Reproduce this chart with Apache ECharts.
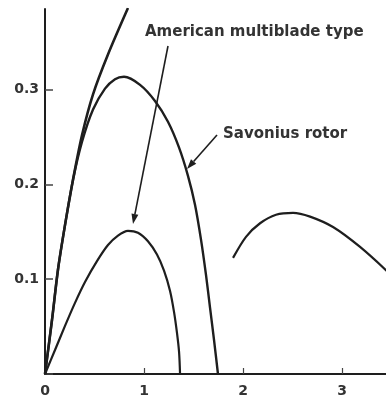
<!DOCTYPE html>
<html>
<head>
<meta charset="utf-8">
<script src="https://cdn.jsdelivr.net/npm/echarts@6/dist/echarts.min.js"></script>
<style>
html,body{margin:0;padding:0;background:#fff;}
#c{width:386px;height:399px;}
</style>
</head>
<body>
<div id="c"></div>
<script>
// Tip speed ratio (x) vs power coefficient (y)
var xTicks = [0, 1, 2, 3];
var yTicks = [0.1, 0.2, 0.3];

var steepX = [0, 0.0707, 0.131, 0.202, 0.283, 0.374, 0.485, 0.636, 0.838];
var steepY = [0, 0.057, 0.110, 0.157, 0.205, 0.252, 0.295, 0.337, 0.386];

var savoniusX = [0, 0.0707, 0.131, 0.202, 0.283, 0.374, 0.485, 0.606, 0.707, 0.798, 0.960, 1.111, 1.242, 1.354, 1.444, 1.515, 1.576, 1.626, 1.667, 1.707, 1.747];
var savoniusY = [0, 0.057, 0.110, 0.157, 0.205, 0.245, 0.279, 0.301, 0.311, 0.3135, 0.305, 0.288, 0.266, 0.2387, 0.209, 0.1785, 0.1415, 0.1045, 0.0697, 0.0359, 0];

var multibladeX = [0, 0.101, 0.202, 0.303, 0.404, 0.525, 0.636, 0.737, 0.838, 0.939, 1.040, 1.131, 1.202, 1.263, 1.303, 1.333, 1.354, 1.364];
var multibladeY = [0, 0.0253, 0.0507, 0.075, 0.097, 0.119, 0.136, 0.146, 0.151, 0.149, 0.140, 0.126, 0.109, 0.0876, 0.0655, 0.0433, 0.0232, 0];

var highSpeedX = [1.899, 2.03, 2.172, 2.333, 2.505, 2.677, 2.909, 3.182, 3.46];
var highSpeedY = [0.1225, 0.1447, 0.159, 0.168, 0.170, 0.166, 0.155, 0.134, 0.108];

function pairs(xs, ys){ return xs.map(function(x,i){ return [x, ys[i]]; }); }

var lineColor = '#1e1e1e';
var textColor = '#333';
var font = 'DejaVu Sans';

function mkSeries(xs, ys, w){
  return {
    type:'line', data:pairs(xs, ys), smooth:0.3, showSymbol:false, clip:true,
    lineStyle:{color:lineColor, width:w}, itemStyle:{color:lineColor}, silent:true
  };
}

function arrow(x1,y1,x2,y2){
  var dx=x2-x1, dy=y2-y1, L=Math.sqrt(dx*dx+dy*dy);
  var ux=dx/L, uy=dy/L, px=-uy, py=ux;
  var len=10, hw=3.5;
  var bx=x2-ux*len, by=y2-uy*len;
  return [
    {type:'line', shape:{x1:x1,y1:y1,x2:bx,y2:by}, style:{stroke:lineColor, lineWidth:1.6}, z:10},
    {type:'polygon', shape:{points:[[x2,y2],[bx+px*hw,by+py*hw],[bx-px*hw,by-py*hw]]}, style:{fill:lineColor}, z:10}
  ];
}

var chart = echarts.init(document.getElementById('c'), null, {renderer:'canvas'});
var graphics = [
  {type:'text', left:145, top:25, style:{text:'American multiblade type', font:'bold 15px "DejaVu Sans"', fill:textColor}, z:10},
  {type:'text', left:223, top:127, style:{text:'Savonius rotor', font:'bold 15px "DejaVu Sans"', fill:textColor}, z:10}
].concat(arrow(168,46,133,224)).concat(arrow(217,135,187,169));

chart.setOption({
  animation:false,
  backgroundColor:'#fff',
  grid:{left:45, top:9, right:0, bottom:25, containLabel:false},
  xAxis:{
    type:'value', min:0, max:3.444, interval:1,
    axisLine:{show:true, lineStyle:{color:lineColor, width:2}},
    axisTick:{show:true, inside:true, length:6, lineStyle:{color:'#444', width:1.2}},
    splitLine:{show:false},
    axisLabel:{show:true, margin:10, color:textColor, fontFamily:font, fontWeight:'bold', fontSize:14, showMaxLabel:false,
      formatter:function(v){ return xTicks.indexOf(v) >= 0 ? String(v) : ''; }}
  },
  yAxis:{
    type:'value', min:0, max:0.385, interval:0.1,
    axisLine:{show:true, lineStyle:{color:lineColor, width:2}},
    axisTick:{show:true, inside:true, length:8, lineStyle:{color:'#444', width:1.5}},
    splitLine:{show:false},
    axisLabel:{show:true, margin:6, color:textColor, fontFamily:font, fontWeight:'bold', fontSize:14, showMaxLabel:false,
      formatter:function(v){ var r=Math.round(v*10)/10; return yTicks.indexOf(r) >= 0 ? r.toFixed(1) : ''; }}
  },
  series:[
    mkSeries(steepX, steepY, 2.6),
    mkSeries(savoniusX, savoniusY, 2.4),
    mkSeries(multibladeX, multibladeY, 2.2),
    mkSeries(highSpeedX, highSpeedY, 2.2)
  ],
  graphic:graphics
});
</script>
</body>
</html>
